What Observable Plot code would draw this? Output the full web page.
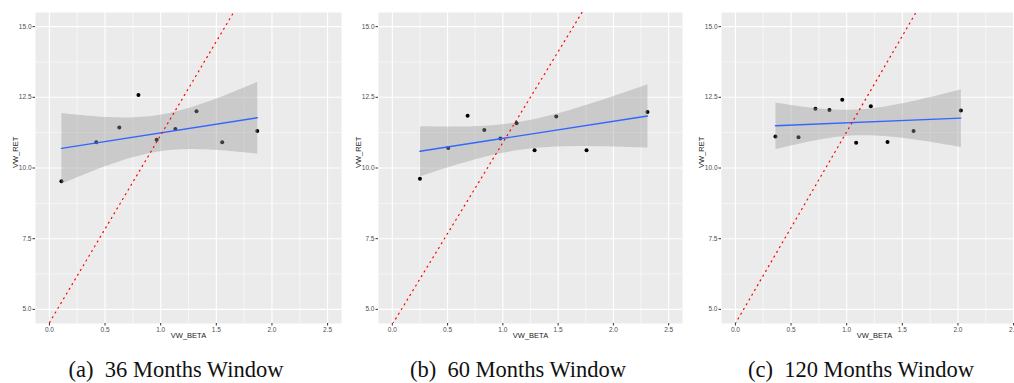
<!DOCTYPE html>
<html><head><meta charset="utf-8">
<script src="https://cdn.jsdelivr.net/npm/d3@7"></script>
<script src="https://cdn.jsdelivr.net/npm/@observablehq/plot@0.6"></script>
<style>
html,body{margin:0;padding:0;background:#fff;overflow:hidden;width:1014px;height:383px;}
#root{position:relative;width:1014px;height:383px;overflow:hidden;}
.panel{position:absolute;top:0;width:360px;}
.panel svg{max-width:none !important;}
.cap{position:absolute;top:359px;font-family:"Liberation Serif",serif;font-size:22.5px;line-height:22px;color:#111;white-space:pre;transform:translateX(-50%);}
</style></head><body><div id="root"></div>
<script>
// tick labels
const xTicks = [0, 0.5, 1, 1.5, 2, 2.5];
const yTicks = [5, 7.5, 10, 12.5, 15];
const xMinor = [0.25, 0.75, 1.25, 1.75, 2.25];
const yMinor = [6.25, 8.75, 11.25, 13.75];
const xTitle = "VW_BETA";
const yTitle = "VW_RET";
const captions = ["(a)  36 Months Window", "(b)  60 Months Window", "(c)  120 Months Window"];

// 36 months window
const beta36 = [0.108, 0.421, 0.628, 0.800, 0.964, 1.132, 1.322, 1.553, 1.868];
const ret36  = [9.53, 10.91, 11.43, 12.58, 11.00, 11.38, 12.01, 10.91, 11.31];
// 60 months window
const beta60 = [0.250, 0.506, 0.681, 0.832, 0.977, 1.124, 1.287, 1.483, 1.757, 2.308];
const ret60  = [9.62, 10.71, 11.85, 11.34, 11.04, 11.58, 10.63, 11.82, 10.63, 11.98];
// 120 months window
const beta120 = [0.360, 0.567, 0.719, 0.845, 0.960, 1.085, 1.217, 1.367, 1.601, 2.026];
const ret120  = [11.11, 11.09, 12.10, 12.05, 12.41, 10.89, 12.18, 10.92, 11.31, 12.03];

// dotted reference line (intercept + slope * beta)
const smlIntercept = [4.53, 4.47, 4.50];
const smlSlope = [6.63, 6.43, 6.78];

const panelsBeta = [beta36, beta60, beta120];
const panelsRet = [ret36, ret60, ret120];

const root = document.getElementById("root");
const lefts = [0, 343, 686];
const plotWs = [306, 304, 306];
const capCenters = [176, 518, 861];
const xDomain = [-0.125, 2.625];
const yDomain = [4.5, 15.5];

for (let i = 0; i < 3; i++) {
  const data = panelsBeta[i].map((b, j) => ({x: b, y: panelsRet[i][j]}));
  const sml = xDomain.map(b => ({x: b, y: smlIntercept[i] + smlSlope[i] * b}));
  const mL = 35, mR = 6, mT = 12, mB = 22;
  const chart = Plot.plot({
    width: mL + plotWs[i] + mR,
    height: mT + 311 + mB,
    marginLeft: mL, marginRight: mR, marginTop: mT, marginBottom: mB,
    style: {fontFamily: "'Liberation Sans', Arial, sans-serif", fontSize: "6.5px", background: "transparent", overflow: "visible", maxWidth: "none"},
    x: {domain: xDomain, label: null},
    y: {domain: yDomain, label: null},
    marks: [
      Plot.frame({fill: "#EBEBEB", stroke: "none"}),
      Plot.ruleX(xMinor, {stroke: "white", strokeWidth: 0.55}),
      Plot.ruleY(yMinor, {stroke: "white", strokeWidth: 0.55}),
      Plot.ruleX(xTicks, {stroke: "white", strokeWidth: 1.1}),
      Plot.ruleY(yTicks, {stroke: "white", strokeWidth: 1.1}),
      Plot.axisX(xTicks, {tickFormat: d3.format(".1f"), tickSize: 2.5, tickPadding: 1.5, fill: "#4D4D4D", stroke: "#333", fontSize: 6.5, label: null}),
      Plot.axisY(yTicks, {tickFormat: d3.format(".1f"), tickSize: 2.5, tickPadding: 1.5, fill: "#4D4D4D", stroke: "#333", fontSize: 6.5, label: null}),
      Plot.text([xTitle], {frameAnchor: "bottom", dy: 14.5, fontSize: 7.5, fill: "#222"}),
      Plot.text([yTitle], {frameAnchor: "left", dx: -20, rotate: -90, fontSize: 7.5, fill: "#222"}),
      Plot.dot(data, {x: "x", y: "y", r: 2, fill: "black", stroke: "none"}),
      Plot.linearRegressionY(data, {x: "x", y: "y", stroke: "#3366FF", strokeWidth: 1.4, fill: "#999999", fillOpacity: 0.4, ci: 0.95}),
      Plot.line(sml, {x: "x", y: "y", stroke: "red", strokeWidth: 1.2, strokeDasharray: "1.1 4.4", clip: true})
    ]
  });
  chart.style.maxWidth = "none";
  const div = document.createElement("div");
  div.className = "panel";
  div.style.left = lefts[i] + "px";
  div.appendChild(chart);
  root.appendChild(div);
  const cap = document.createElement("div");
  cap.className = "cap";
  cap.style.left = capCenters[i] + "px";
  cap.textContent = captions[i];
  root.appendChild(cap);
}
</script>
</body></html>
